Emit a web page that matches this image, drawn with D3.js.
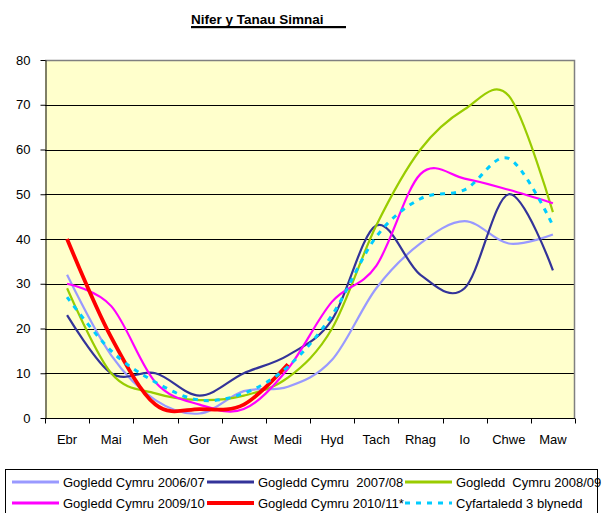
<!DOCTYPE html>
<html>
<head>
<meta charset="utf-8">
<script src="https://cdn.jsdelivr.net/npm/d3@7.9.0/dist/d3.min.js"></script>
<style>
  html, body { margin: 0; padding: 0; background: #fff; }
  svg { display: block; font-family: "Liberation Sans", Arial, sans-serif; }
</style>
</head>
<body>
<svg id="chart" width="602" height="513"></svg>
<script>
const months = ['Ebr', 'Mai', 'Meh', 'Gor', 'Awst', 'Medi', 'Hyd', 'Tach', 'Rhag', 'Io', 'Chwe', 'Maw'];
const yTicks = [0, 10, 20, 30, 40, 50, 60, 70, 80];

const y2006 = [32, 14, 4, 1, 6, 7, 13, 29, 39, 44, 39, 41];
const y2007 = [23, 10, 10, 5, 10, 14, 22, 43, 32, 29, 50, 33];
const y2008 = [29, 10, 5.5, 4, 5, 9, 20, 43, 60, 69, 72, 46];
const y2009 = [30, 25, 8, 3, 2, 11, 26, 34, 54.5, 53.5, 51, 48];
const y2010 = [40, 18, 3, 2, 3, 12];
const avg3 = [27, 15, 8, 4, 5.5, 11.5, 23, 40.5, 49, 51, 58, 43];

const series = [
  { name: 'Gogledd Cymru 2006/07', values: y2006, color: '#9999ff', width: 2.2 },
  { name: 'Gogledd Cymru  2007/08', values: y2007, color: '#333399', width: 2.2 },
  { name: 'Gogledd  Cymru 2008/09', values: y2008, color: '#99cc00', width: 2.2 },
  { name: 'Gogledd Cymru 2009/10', values: y2009, color: '#ff00ff', width: 2.2 },
  { name: 'Gogledd Cymru 2010/11*', values: y2010, color: '#ff0000', width: 3.8 },
  { name: 'Cyfartaledd 3 blynedd', values: avg3, color: '#00ccff', width: 3, dash: '5,6' }
];

const svg = d3.select('#chart');
const plot = { left: 45, right: 575, top: 60, bottom: 418 };

const x = d3.scaleBand().domain(months).range([plot.left, plot.right]).paddingInner(0).paddingOuter(0);
const y = d3.scaleLinear().domain([0, 80]).range([plot.bottom, plot.top]);
const cx = (m) => x(m) + x.bandwidth() / 2;

// title, underlined past the end of the text
svg.append('text')
  .attr('x', 191)
  .attr('y', 24)
  .attr('font-size', 13.5)
  .attr('font-weight', 'bold')
  .attr('fill', '#000')
  .text('Nifer y Tanau Simnai');
svg.append('rect')
  .attr('x', 191)
  .attr('y', 26)
  .attr('width', 346 - 191)
  .attr('height', 2.2)
  .attr('fill', '#000');

// plot background
svg.append('rect')
  .attr('x', plot.left)
  .attr('y', plot.top)
  .attr('width', plot.right - plot.left)
  .attr('height', plot.bottom - plot.top)
  .attr('fill', '#ffffcc');

// gridlines
svg.append('g')
  .selectAll('line')
  .data(yTicks.filter((t) => t > 0 && t < 80))
  .join('line')
  .attr('x1', plot.left)
  .attr('x2', plot.right)
  .attr('y1', (d) => Math.round(y(d)) + 0.5)
  .attr('y2', (d) => Math.round(y(d)) + 0.5)
  .attr('stroke', '#000')
  .attr('stroke-width', 1);

// border top & right (grey)
svg.append('path')
  .attr('d', `M${plot.left},${plot.top + 0.5}H${plot.right - 0.5}V${plot.bottom}`)
  .attr('fill', 'none')
  .attr('stroke', '#808080')
  .attr('stroke-width', 1.5);

// y axis
const yAxis = svg.append('g')
  .attr('transform', `translate(${plot.left + 0.5},0)`)
  .call(d3.axisLeft(y).tickValues(yTicks).tickSize(5).tickPadding(10).tickSizeOuter(0));
yAxis.select('.domain').attr('stroke', '#000');
yAxis.selectAll('line').attr('stroke', '#000');
yAxis.selectAll('text').attr('font-size', 13).attr('fill', '#000')
  .attr('font-family', '"Liberation Sans", Arial, sans-serif');

// x axis: ticks at band boundaries
const xAxis = svg.append('g')
  .attr('transform', `translate(0,${plot.bottom + 0.5})`);
xAxis.append('line')
  .attr('x1', plot.left).attr('x2', plot.right)
  .attr('stroke', '#000');
xAxis.selectAll('line.tick')
  .data([...months.map((m) => x(m)), plot.right])
  .join('line')
  .attr('class', 'tick')
  .attr('x1', (d) => Math.round(d) + 0.5)
  .attr('x2', (d) => Math.round(d) + 0.5)
  .attr('y1', 0)
  .attr('y2', 5)
  .attr('stroke', '#000');
xAxis.selectAll('text')
  .data(months)
  .join('text')
  .attr('x', (d) => cx(d))
  .attr('y', 25.5)
  .attr('text-anchor', 'middle')
  .attr('font-size', 13)
  .attr('fill', '#000')
  .text((d) => d);

// lines
const line = d3.line()
  .x((d, i) => cx(months[i]))
  .y((d) => y(d))
  .curve(d3.curveCardinal.tension(0));

svg.append('g')
  .selectAll('path')
  .data(series)
  .join('path')
  .attr('d', (s) => line(s.values))
  .attr('fill', 'none')
  .attr('stroke', (s) => s.color)
  .attr('stroke-width', (s) => s.width)
  .attr('stroke-dasharray', (s) => s.dash || null)
  .attr('stroke-linejoin', 'round');

// legend
svg.append('rect')
  .attr('x', 5.5)
  .attr('y', 469.5)
  .attr('width', 592)
  .attr('height', 60)
  .attr('fill', '#fff')
  .attr('stroke', '#000')
  .attr('stroke-width', 1);

const colX = [12, 207, 405];
const rowY = [482, 503];
const items = svg.append('g')
  .selectAll('g')
  .data(series)
  .join('g')
  .attr('transform', (d, i) => `translate(${colX[i % 3]},${rowY[Math.floor(i / 3)]})`);
items.append('line')
  .attr('x1', 0)
  .attr('x2', 47)
  .attr('stroke', (d) => d.color)
  .attr('stroke-width', (d) => (d.width > 3.5 ? 4 : 3))
  .attr('stroke-dasharray', (d) => d.dash || null);
items.append('text')
  .attr('x', 51)
  .attr('y', 4.5)
  .attr('font-size', 13)
  .attr('fill', '#000')
  .style('white-space', 'pre')
  .text((d) => d.name);
</script>
</body>
</html>
